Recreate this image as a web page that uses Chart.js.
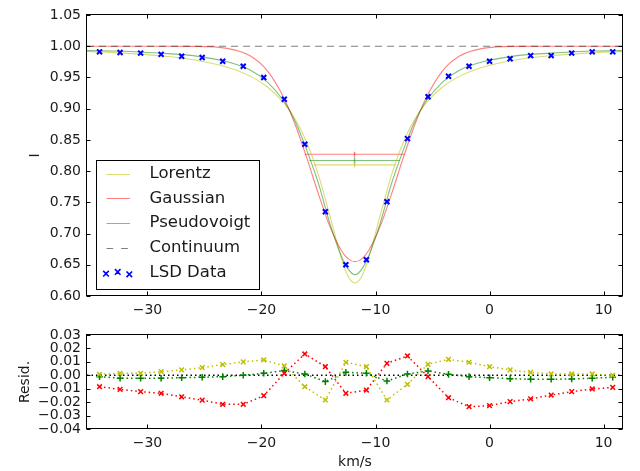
<!DOCTYPE html>
<html>
<head>
<meta charset="utf-8">
<script src="https://cdn.jsdelivr.net/npm/chart.js@4.4.1/dist/chart.umd.min.js"></script>
<style>
  body { margin: 0; background: #fff; }
  #wrap { position: relative; width: 640px; height: 471px; }
  canvas { position: absolute; left: 0; }
  #top { top: 0; }
  #bot { top: 320px; }
</style>
</head>
<body>
<div id="wrap">
  <canvas id="top" width="640" height="320"></canvas>
  <canvas id="bot" width="640" height="151"></canvas>
</div>
<script>
// LSD profile points (km/s, intensity)
const velocity = [-34.2, -32.4, -30.6, -28.8, -27.0, -25.2, -23.4, -21.6, -19.8, -18.0, -16.2, -14.4, -12.6,
                  -10.8, -9.0, -7.2, -5.4, -3.6, -1.8, 0.0, 1.8, 3.6, 5.4, 7.2, 9.0, 10.8];
const lsdFlux = [0.991, 0.990, 0.989, 0.987, 0.984, 0.982, 0.976, 0.968, 0.950, 0.915, 0.843, 0.735, 0.650,
                 0.658, 0.751, 0.852, 0.919, 0.952, 0.968, 0.976, 0.980, 0.985, 0.985, 0.989, 0.991, 0.991];

// fitted curves
const modelVel = [-35.3, -32, -29, -26, -23, -21, -19.5, -18, -17, -16, -15, -14, -13, -12.4, -11.8,
                  -11.2, -10.6, -9.6, -8.6, -7.6, -6.6, -5.6, -4.1, -2.6, -0.6, 2.4, 5.4, 8.4, 11.7];
const lorentzFit = [0.9918, 0.9890, 0.9849, 0.9783, 0.9663, 0.9521, 0.9351, 0.9084, 0.8818, 0.8447, 0.7936, 0.7283, 0.6609, 0.6318, 0.621,
                    0.6318, 0.6609, 0.7283, 0.7936, 0.8447, 0.8818, 0.9084, 0.9351, 0.9521, 0.9663, 0.9783, 0.9849, 0.9890, 0.9918];
const gaussianFit = [1.0, 1.0, 1.0, 0.9998, 0.9966, 0.9846, 0.9609, 0.9159, 0.8722, 0.8195, 0.7631, 0.7112, 0.6728, 0.6595, 0.655,
                     0.6595, 0.6728, 0.7112, 0.7631, 0.8195, 0.8722, 0.9159, 0.9609, 0.9846, 0.9966, 0.9998, 1.0, 1.0, 1.0];
const pseudoFit = [0.993, 0.992, 0.989, 0.985, 0.975, 0.962, 0.943, 0.911, 0.878, 0.832, 0.780, 0.716, 0.664, 0.643, 0.634,
                   0.643, 0.664, 0.716, 0.780, 0.832, 0.878, 0.911, 0.943, 0.962, 0.975, 0.985, 0.989, 0.992, 0.993];
const continuumLevel = 1.0;

// half-depth width markers: Lorentz, Gaussian, Pseudovoigt
const fwhmLevel = [0.810, 0.827, 0.817];
const fwhmLeft = [-15.4, -16.2, -15.8];
const fwhmRight = [-8.25, -7.45, -7.9];
const fwhmCentre = -11.84;
const fwhmErr = [0.004, 0.004, 0.005];

// residuals (data - fit)
const residLorentz = [0.0007, 0.0015, 0.0015, 0.0027, 0.004, 0.0057, 0.008, 0.010, 0.0114, 0.007, -0.0085, -0.0184, 0.0097,
                      0.0064, -0.0184, -0.0067, 0.0082, 0.0119, 0.0097, 0.0064, 0.004, 0.0022, 0.001, 0.001, 0.001, 0.0];
const residGaussian = [-0.0085, -0.0105, -0.0122, -0.0134, -0.016, -0.0185, -0.0216, -0.0216, -0.0152, 0.0015, 0.0159, 0.0064, -0.0134,
                       -0.011, 0.0089, 0.0144, -0.001, -0.0167, -0.0234, -0.0226, -0.0196, -0.0176, -0.0147, -0.0122, -0.0102, -0.009];
const residPseudo = [-0.001, -0.0022, -0.0022, -0.0022, -0.0018, -0.0015, -0.001, 0.0, 0.0015, 0.0035, 0.001, -0.0047, 0.0022,
                     0.0015, -0.0043, 0.001, 0.0032, 0.0007, -0.001, -0.0018, -0.0025, -0.003, -0.003, -0.0027, -0.0022, -0.0015];

const xMin = -35.3, xMax = 11.7;
const xTicks = [-30, -20, -10, 0, 10];
const yTicksTop = [0.60, 0.65, 0.70, 0.75, 0.80, 0.85, 0.90, 0.95, 1.00, 1.05];
const yTicksBot = [-0.04, -0.03, -0.02, -0.01, 0.00, 0.01, 0.02, 0.03];
const legendLabels = ['Lorentz', 'Gaussian', 'Pseudovoigt', 'Continuum', 'LSD Data'];

const cLor = 'rgba(191,191,0,0.55)';
const cGau = 'rgba(255,0,0,0.5)';
const cPv = 'rgba(0,128,0,0.5)';
const textCol = '#1a1a1a';

Chart.defaults.font.family = '"DejaVu Sans", sans-serif';
Chart.defaults.font.size = 14;
Chart.defaults.color = textCol;

function pts(xs, ys) {
  return xs.map((x, i) => ({ x: x, y: ys[i] }));
}

function fmtX(v) {
  return v < 0 ? '\u2212' + Math.abs(v) : String(v);
}

function fmtY(v) {
  let s = Math.abs(v).toFixed(2);
  return v < -1e-9 ? '\u2212' + s : s;
}

function lineDs(data, color, extra) {
  return Object.assign({
    data: data, borderColor: color, backgroundColor: color, showLine: true,
    pointRadius: 0, borderWidth: 1.1, fill: false
  }, extra || {});
}

// frame on all four sides + inward ticks, matplotlib classic look
const frameTicks = {
  id: 'frameTicks',
  afterDatasetsDraw(chart) {
    const ctx = chart.ctx, a = chart.chartArea;
    const sx = chart.scales.x, sy = chart.scales.y;
    const l = Math.round(a.left) - 0.5, r = Math.round(a.right) - 0.5;
    const t = Math.round(a.top) - 0.5, b = Math.round(a.bottom) - 0.5;
    ctx.save();
    ctx.strokeStyle = '#000';
    ctx.lineWidth = 1;
    ctx.strokeRect(l, t, r - l, b - t);
    ctx.beginPath();
    sx.ticks.forEach(tk => {
      let px = Math.round(sx.getPixelForValue(tk.value)) + 0.5;
      ctx.moveTo(px, b); ctx.lineTo(px, b - 4);
      ctx.moveTo(px, t); ctx.lineTo(px, t + 4);
    });
    sy.ticks.forEach(tk => {
      let py = Math.round(sy.getPixelForValue(tk.value)) + 0.5;
      ctx.moveTo(l, py); ctx.lineTo(l + 4, py);
      ctx.moveTo(r, py); ctx.lineTo(r - 4, py);
    });
    ctx.stroke();
    ctx.restore();
  }
};

function drawX(ctx, x, y, r) {
  ctx.moveTo(x - r, y - r); ctx.lineTo(x + r, y + r);
  ctx.moveTo(x - r, y + r); ctx.lineTo(x + r, y - r);
}

const legendBox = {
  id: 'legendBox',
  afterDatasetsDraw(chart) {
    const ctx = chart.ctx;
    ctx.save();
    ctx.fillStyle = '#fff';
    ctx.fillRect(96, 160, 163, 129);
    ctx.strokeStyle = '#000';
    ctx.lineWidth = 1;
    ctx.strokeRect(96.5, 160.5, 163, 129);
    ctx.font = '16.5px "DejaVu Sans"';
    ctx.textBaseline = 'middle';
    ctx.fillStyle = textCol;
    const cols = [cLor, cGau, cPv, 'rgba(0,0,0,0.5)'];
    legendLabels.forEach((lab, i) => {
      let y = 173.5 + i * 24.8;
      ctx.fillText(lab, 149.5, y);
      if (i < 4) {
        ctx.beginPath();
        ctx.strokeStyle = cols[i];
        ctx.setLineDash(i === 3 ? [6.7, 8] : []);
        ctx.moveTo(106.5, Math.round(y) + 0.5);
        ctx.lineTo(130, Math.round(y) + 0.5);
        ctx.stroke();
        ctx.setLineDash([]);
      } else {
        ctx.beginPath();
        ctx.strokeStyle = '#0000ff';
        ctx.lineWidth = 1.6;
        drawX(ctx, 106, y + 1, 2.8);
        drawX(ctx, 117.7, y - 0.8, 2.8);
        drawX(ctx, 129.3, y + 1.6, 2.8);
        ctx.stroke();
      }
    });
    ctx.restore();
  }
};

function baseOptions(yMin, yMax, yTicks, xTitle, yTitle, yTitlePad, xHeight) {
  return {
    responsive: false,
    devicePixelRatio: 1,
    animation: false,
    events: [],
    layout: { padding: { top: 15, right: 17, left: 0, bottom: 0 } },
    plugins: { legend: { display: false }, tooltip: { enabled: false } },
    scales: {
      x: {
        type: 'linear', min: xMin, max: xMax,
        afterBuildTicks: s => { s.ticks = xTicks.map(v => ({ value: v })); },
        afterFit: s => { s.height = xHeight; },
        grid: { display: false, drawTicks: false, tickLength: 0 },
        border: { display: false },
        ticks: { padding: 6, maxRotation: 0, autoSkip: false, callback: v => fmtX(v) },
        title: { display: !!xTitle, text: xTitle, padding: { top: 0, bottom: 0 } }
      },
      y: {
        type: 'linear', min: yMin, max: yMax,
        afterBuildTicks: s => { s.ticks = yTicks.map(v => ({ value: v })); },
        afterFit: s => { s.width = 87; },
        grid: { display: false, drawTicks: false, tickLength: 0 },
        border: { display: false },
        ticks: { padding: 6, autoSkip: false, callback: v => fmtY(v) },
        title: { display: true, text: yTitle, padding: { top: yTitlePad, bottom: 0 } }
      }
    }
  };
}

// ---- top panel: line profile and fits
const topSets = [
  { data: pts(velocity, lsdFlux), showLine: false, pointStyle: 'crossRot', pointRadius: 3.5,
    borderColor: '#0000ff', backgroundColor: '#0000ff', pointBorderWidth: 2 },
  lineDs([{ x: xMin, y: continuumLevel }, { x: xMax, y: continuumLevel }], 'rgba(0,0,0,0.5)', { borderDash: [7, 5] }),
  lineDs(pts(modelVel, pseudoFit), cPv, { cubicInterpolationMode: 'monotone' }),
  lineDs(pts(modelVel, gaussianFit), cGau, { cubicInterpolationMode: 'monotone' }),
  lineDs(pts(modelVel, lorentzFit), cLor, { cubicInterpolationMode: 'monotone' })
];
const fwhmCols = [cLor, cGau, cPv];
fwhmLevel.forEach((lev, i) => {
  topSets.push(lineDs([{ x: fwhmLeft[i], y: lev }, { x: fwhmRight[i], y: lev }], fwhmCols[i]));
  topSets.push(lineDs([{ x: fwhmCentre, y: lev - fwhmErr[i] }, { x: fwhmCentre, y: lev + fwhmErr[i] }], fwhmCols[i], { borderWidth: 1.5 }));
});

new Chart(document.getElementById('top'), {
  type: 'scatter',
  data: { datasets: topSets },
  options: baseOptions(0.6, 1.05, yTicksTop, '', 'I', 27, 24),
  plugins: [frameTicks, legendBox]
});

// ---- bottom panel: residuals
const dot = [1.5, 3];
const botSets = [
  lineDs(pts(velocity, residGaussian), '#ff0000', { borderDash: dot, borderWidth: 1.5, pointStyle: 'crossRot', pointRadius: 3.3, pointBorderWidth: 1.5 }),
  lineDs(pts(velocity, residLorentz), '#bfbf00', { borderDash: dot, borderWidth: 1.5, pointStyle: 'crossRot', pointRadius: 3.3, pointBorderWidth: 1.5 }),
  lineDs(pts(velocity, residPseudo), '#008000', { borderDash: dot, borderWidth: 1.5, pointStyle: 'cross', pointRadius: 3.3, pointBorderWidth: 1.5 }),
  lineDs([{ x: xMin, y: 0 }, { x: xMax, y: 0 }], '#000', { borderDash: dot, borderWidth: 1.5 })
];

new Chart(document.getElementById('bot'), {
  type: 'scatter',
  data: { datasets: botSets },
  options: baseOptions(-0.04, 0.03, yTicksBot, 'km/s', 'Resid.', 16.5, 42),
  plugins: [frameTicks]
});
</script>
</body>
</html>
